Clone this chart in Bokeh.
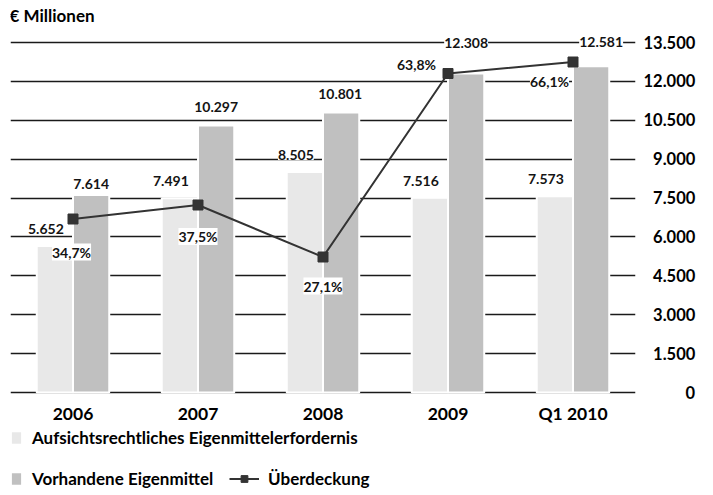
from bokeh.plotting import figure
from bokeh.models import (ColumnDataSource, FactorRange, Range1d, FixedTicker,
                          LabelSet, Label, Legend, LegendItem)
from bokeh.core.properties import value
from bokeh.transform import dodge
from bokeh.embed import file_html
from bokeh.resources import INLINE

# ---- data ----------------------------------------------------------------
years = ["2006", "2007", "2008", "2009", "Q1 2010"]
required = [5652, 7491, 8505, 7516, 7573]        # Aufsichtsrechtliches Eigenmittelerfordernis (€ Mio.)
available = [7614, 10297, 10801, 12308, 12581]   # Vorhandene Eigenmittel (€ Mio.)
surplus_pct = [34.7, 37.5, 27.1, 63.8, 66.1]     # Überdeckung in %
y_ticks = [0, 1500, 3000, 4500, 6000, 7500, 9000, 10500, 12000, 13500]

# ---- label nudges in screen pixels (positive dy = up) --------------------
req_dx, req_dy = -9, 17
avail_dx = [0, 0, -1, 0, 10]
avail_dy = [11, 19, 18, 30, 24]
pct_dx = [-1.5, 0, 0, -31.5, -23.5]
pct_dy = [-33, -31.5, -29, 9, -19]

LIGHT = "#e8e8e8"
DARK = "#c0c0c0"
LINE = "#333333"
INK = "#141414"
FONT = "Lato"


def de_thousands(v):
    return f"{v:,}".replace(",", ".")


def de_pct(v):
    return f"{v:.1f}".replace(".", ",") + "%"


tick_labels = [de_thousands(t) for t in y_ticks]


def pad_right_aligned(s, widest):
    # pad with figure / punctuation spaces so the labels line up on the right
    digits = sum(c.isdigit() for c in widest) - sum(c.isdigit() for c in s)
    dots = widest.count(".") - s.count(".")
    return "\u2007" * digits + "\u2008" * dots + s


widest = max(tick_labels, key=len)
overrides = {t: pad_right_aligned(lbl, widest) for t, lbl in zip(y_ticks, tick_labels)}

src = ColumnDataSource(dict(
    year=years,
    required=required,
    available=available,
    pct=surplus_pct,
    req_text=[de_thousands(v) for v in required],
    avail_text=[de_thousands(v) for v in available],
    pct_text=[de_pct(v) for v in surplus_pct],
    avail_dx=avail_dx,
    avail_dy=avail_dy,
    pct_dx=pct_dx,
    pct_dy=pct_dy,
))

# ---- vertical scale: value 0 sits 103 px above the bottom edge,
#      13.500 sits 350 px higher; the frame fills the whole height -------------
W, H = 713, 495
zero_from_bottom = 103
px_per_unit = 350 / 13500
y_start = -zero_from_bottom / px_per_unit
y_end = (H - zero_from_bottom) / px_per_unit
units_per_pct = 13500 / 70

p = figure(
    width=W, height=H,
    x_range=FactorRange(*years, range_padding=0),
    y_range=Range1d(y_start, y_end),
    y_axis_location="right",
    output_backend="svg",
    toolbar_location=None,
    min_border=0,
    min_border_left=10,
    min_border_right=78,
)
p.extra_y_ranges = {"pct": Range1d(y_start / units_per_pct, y_end / units_per_pct)}
p.outline_line_color = None
p.background_fill_color = "white"
p.border_fill_color = "white"

# grid
p.xgrid.grid_line_color = None
p.ygrid.grid_line_color = "#1a1a1a"
p.ygrid.grid_line_width = 1.5

# right value axis
p.yaxis.ticker = FixedTicker(ticks=y_ticks)
p.yaxis.major_label_overrides = overrides
p.yaxis.axis_line_color = None
p.yaxis.major_tick_line_color = None
p.yaxis.minor_tick_line_color = None
p.yaxis.major_tick_out = 0
p.yaxis.major_tick_in = 0
p.yaxis.major_label_standoff = 8
p.yaxis.major_label_text_font = FONT
p.yaxis.major_label_text_font_style = "bold"
p.yaxis.major_label_text_font_size = "16.5px"
p.yaxis.major_label_text_color = "black"

# category axis sitting on the zero line
p.xaxis.fixed_location = 0
p.xaxis.axis_line_color = None
p.xaxis.major_tick_line_color = None
p.xaxis.major_tick_out = 0
p.xaxis.major_tick_in = 0
p.xaxis.major_label_standoff = 10
p.xaxis.major_label_text_font = FONT
p.xaxis.major_label_text_font_style = "bold"
p.xaxis.major_label_text_font_size = "17.5px"
p.xaxis.major_label_text_color = "black"

# ---- bars ----------------------------------------------------------------
r_req = p.vbar(x=dodge("year", -0.145, range=p.x_range), top="required", width=0.29,
               source=src, fill_color=LIGHT, line_color="white", line_width=2)
r_av = p.vbar(x=dodge("year", 0.145, range=p.x_range), top="available", width=0.29,
              source=src, fill_color=DARK, line_color="white", line_width=2)

# ---- surplus line --------------------------------------------------------
r_line = p.line(x="year", y="pct", y_range_name="pct", source=src,
                line_color=LINE, line_width=2)
r_pts = p.scatter(x="year", y="pct", y_range_name="pct", source=src,
                  marker="square", size=10, fill_color=LINE, line_color=LINE)

# ---- value labels --------------------------------------------------------
label_style = dict(text_font=value(FONT), text_font_style="bold", text_font_size="14px",
                   text_color=INK, text_align="center", text_baseline="middle",
                   background_fill_color="white", source=src)

p.add_layout(LabelSet(x=dodge("year", -0.145, range=p.x_range), y="required",
                      text="req_text", x_offset=req_dx, y_offset=req_dy, **label_style))
p.add_layout(LabelSet(x=dodge("year", 0.145, range=p.x_range), y="available",
                      text="avail_text", x_offset="avail_dx", y_offset="avail_dy",
                      **label_style))
p.add_layout(LabelSet(x="year", y="pct", y_range_name="pct", text="pct_text",
                      x_offset="pct_dx", y_offset="pct_dy", **label_style))

# ---- unit caption --------------------------------------------------------
p.add_layout(Label(x=-1, y=H - 15, x_units="screen", y_units="screen",
                   text="€ Millionen", text_font=FONT, text_font_style="bold",
                   text_font_size="17px", text_color="black", text_baseline="middle"))

# ---- legend rows ---------------------------------------------------------
def make_legend(items, loc, glyph_w):
    lg = Legend(items=items, location=loc, orientation="horizontal",
                glyph_width=glyph_w, glyph_height=17, label_height=17,
                label_standoff=9, padding=0, margin=0, spacing=0,
                border_line_color=None, background_fill_alpha=0)
    lg.label_text_font = FONT
    lg.label_text_font_style = "bold"
    lg.label_text_font_size = "17px"
    lg.label_text_color = "black"
    return lg


p.add_layout(make_legend([LegendItem(label="Aufsichtsrechtliches Eigenmittelerfordernis",
                                     renderers=[r_req])], (-1, 47), 14))
p.add_layout(make_legend([LegendItem(label="Vorhandene Eigenmittel", renderers=[r_av])],
                         (-1, 6), 14))
p.add_layout(make_legend([LegendItem(label="Überdeckung", renderers=[r_line, r_pts])],
                         (219, 6), 30))

open("out.html", "w").write(file_html(p, INLINE))
